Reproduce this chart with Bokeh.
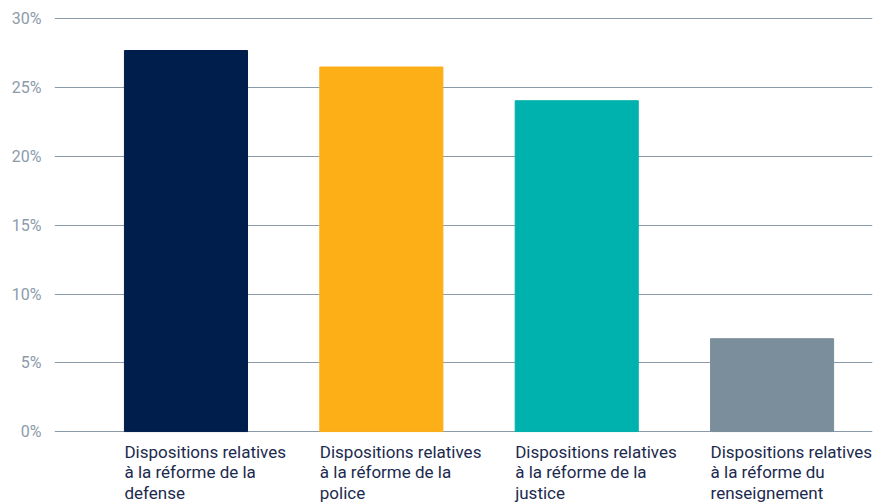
from bokeh.plotting import figure
from bokeh.models import FixedTicker, Range1d, PrintfTickFormatter, ColumnDataSource
from bokeh.core.properties import value
from bokeh.embed import file_html
from bokeh.resources import INLINE

categories = [
    "Dispositions relatives\nà la réforme de la\ndefense",
    "Dispositions relatives\nà la réforme de la\npolice",
    "Dispositions relatives\nà la réforme de la\njustice",
    "Dispositions relatives\nà la réforme du\nrenseignement",
]
shares = [27.7, 26.5, 24.05, 6.75]
colors = ["#001e4b", "#fcaf17", "#00b2ae", "#7a8f9b"]
y_ticks = [0, 5, 10, 15, 20, 25, 30]

bar_w = 0.63
xs = list(range(len(categories)))
src = ColumnDataSource(dict(x=xs, top=shares, color=colors,
                            lx=[x - bar_w / 2 for x in xs],
                            ly=[0] * len(xs), label=categories))

p = figure(width=882, height=502, output_backend="svg", toolbar_location=None,
           x_range=Range1d(-0.673, 3.514), y_range=Range1d(-5.156, 30.1),
           min_border_left=54, min_border_right=10, min_border_top=17,
           min_border_bottom=0)
p.outline_line_color = None
p.background_fill_color = "white"
p.border_fill_color = "white"

p.vbar(x="x", top="top", width=bar_w, bottom=0, color="color", source=src)

p.text(x="lx", y="ly", text="label", source=src, y_offset=10,
       text_font=value("Roboto"), text_font_size="17px", text_color="#1b2a4e",
       text_baseline="top", text_align="left", text_line_height=1.035)

p.xaxis.visible = False
p.xgrid.visible = False
p.yaxis.ticker = FixedTicker(ticks=y_ticks)
p.yaxis.formatter = PrintfTickFormatter(format="%d%%")
p.yaxis.axis_line_color = None
p.yaxis.major_tick_line_color = None
p.yaxis.minor_tick_line_color = None
p.yaxis.major_label_standoff = 7
p.yaxis.major_label_text_font = "Roboto"
p.yaxis.major_label_text_font_size = "16px"
p.yaxis.major_label_text_color = "#8b9bab"
p.ygrid.ticker = FixedTicker(ticks=y_ticks)
p.ygrid.grid_line_color = "#8a9aa8"
p.ygrid.grid_line_width = 1
p.ygrid.level = "underlay"

open("out.html", "w").write(file_html(p, INLINE))
